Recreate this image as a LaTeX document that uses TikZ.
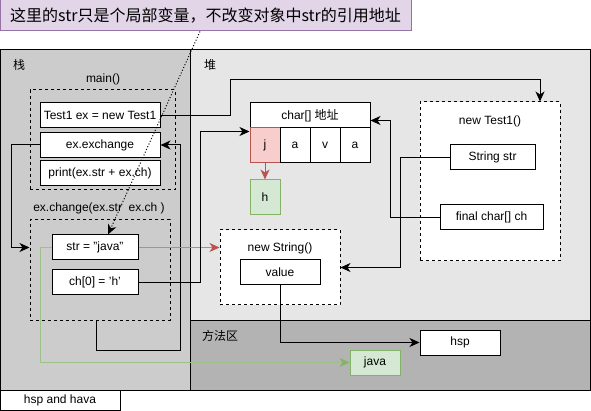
\documentclass[tikz,border=0pt]{standalone}
\usepackage{fontspec}
\setmainfont{Liberation Sans}
\newfontfamily\cjk{Noto Sans CJK SC}
\usetikzlibrary{arrows.meta}
\definecolor{stackc}{HTML}{CCCCCC}
\definecolor{heapc}{HTML}{E6E6E6}
\definecolor{methc}{HTML}{B3B3B3}
\definecolor{purf}{HTML}{E1D5E7}
\definecolor{purd}{HTML}{9673A6}
\definecolor{redf}{HTML}{F8CECC}
\definecolor{redd}{HTML}{B85450}
\definecolor{redl}{HTML}{CC8080}
\definecolor{grnf}{HTML}{D5E8D4}
\definecolor{grnd}{HTML}{82B366}
\definecolor{grnl}{HTML}{9CC28A}
\begin{document}
\begin{tikzpicture}[x=1pt,y=-1pt,line width=1pt,
  font=\fontsize{12}{14}\selectfont,
  box/.style={draw,fill=white,inner sep=0pt,minimum width=#1,minimum height=25pt},
  box/.default=120pt,
  dbox/.style={draw,dash pattern=on 3pt off 3pt,inner sep=0pt},
  arr/.style={-{Stealth[length=10pt,width=9pt,inset=3pt]}},
  carr/.style={-{Stealth[length=10pt,width=9pt,inset=3pt,color=#1]}},
  lbl/.style={inner sep=0pt},
  panel/.style={draw}]
\useasboundingbox (0,0) rectangle (591,411);
\fill[white] (0,0) rectangle (591,411);
% panels
\fill[stackc] (0,50) rectangle (190,390);
\fill[heapc] (190,50) rectangle (590,320);
\fill[methc] (190,320) rectangle (590,390);
\draw (0,50) rectangle (590,390);
\draw (190,50) -- (190,390);
\draw (190,320) -- (590,320);
\node[box=120pt,minimum height=20pt] (hh) at (60,400) {hsp and hava};
% callout
\node[draw=purd,fill=purf,inner sep=0pt,minimum width=411pt,minimum height=31pt] (call) at (205.5,15.5)
  {\cjk\fontsize{16}{18}\selectfont 这里的str只是个局部变量，不改变对象中str的引用地址};
% labels
\node[lbl] (lz) at (19,65) {\cjk 栈};
\node[lbl] (ld) at (210,65) {\cjk 堆};
\node[lbl] (lf) at (220,336) {\cjk 方法区};
% stack
\node[lbl] (lmain) at (103,79) {main()};
\node[dbox,minimum width=145pt,minimum height=100pt] (mbox) at (102.5,140) {};
\node[box] (t1) at (100,115.5) {Test1 ex = new Test1};
\node[box] (exch) at (100,145) {ex.exchange};
\node[box] (prt) at (100,173) {print(ex.str + ex.ch)};
\node[lbl] (lchg) at (99,208) {ex.change(ex.str\ \ ex.ch )};
\node[dbox,minimum width=140pt,minimum height=100pt] (chg) at (100,270) {};
\node[box=86pt] (strj) at (95,247.5) {str = "java"};
\node[box=86pt] (ch0) at (95,282.5) {ch[0] = 'h'};
% heap
\node[box] (hdr) at (310,115.5) {char[] {\cjk 地址}};
\node[draw=redd,fill=redf,inner sep=0pt,minimum width=30pt,minimum height=35pt] (cj) at (265,145.5) {j};
\node[draw,fill=white,inner sep=0pt,minimum width=30pt,minimum height=35pt] (ca1) at (295,145.5) {a};
\node[draw,fill=white,inner sep=0pt,minimum width=30pt,minimum height=35pt] (cv) at (325,145.5) {v};
\node[draw,fill=white,inner sep=0pt,minimum width=30pt,minimum height=35pt] (ca2) at (355,145.5) {a};
\node[draw=grnd,fill=grnf,inner sep=0pt,minimum width=30pt,minimum height=35pt] (hb) at (265,197.5) {h};
\node[dbox,fill=white,minimum width=140pt,minimum height=159pt] (nt) at (490,181.5) {};
\node[lbl] (lnt) at (490,121) {new Test1()};
\node[box=85pt] (sstr) at (492.5,157.5) {String str};
\node[box=103pt] (fch) at (491.5,217.5) {final char[] ch};
\node[dbox,fill=white,minimum width=120pt,minimum height=75pt] (ns) at (280,267.5) {};
\node[lbl] (lns) at (280,248) {new String()};
\node[box=80pt] (val) at (280,272.5) {value};
% method area
\node[box=80pt] (hsp) at (460,342.5) {hsp};
\node[draw=grnd,fill=grnf,inner sep=0pt,minimum width=50pt,minimum height=25pt] (jv) at (375,362.5) {java};
% connectors
\draw[arr] (t1.east) -- (230,115.5) -- (230,80) -- (540,80) -- ([xshift=50pt]nt.north);
\draw[arr] (exch.west) -- (11,145) -- (11,247.5) -- (chg.west |- strj);
\draw[arr] ([xshift=-4pt]chg.south) -- (96,350) -- (180,350) -- (180,145) -- (exch.east);
\draw[carr=redd,color=redl] (strj.east) -- (ns.west |- strj);
\draw[arr] (ch0.east) -- (200,282.5) -- (200,131.5) -- ([yshift=14pt]cj.west);
\draw[arr] (val.south) -- (280,342.5) -- (hsp.west);
\draw[carr=grnd,color=grnl] (strj.west) -- (40,247.5) -- (40,362.5) -- (jv.west);
\draw[arr] (sstr.west) -- (400,157.5) -- (400,267.5) -- (ns.east);
\draw[arr] (fch.west) -- (390,217.5) -- (390,120.5) -- ([yshift=-5pt]hdr.east);
\draw[arr,color=redd] (cj.south) -- (hb.north);
\draw[arr,dash pattern=on 1pt off 2pt] ([xshift=-5.5pt]call.south) -- ([xshift=13pt]strj.north);
\end{tikzpicture}
\end{document}
